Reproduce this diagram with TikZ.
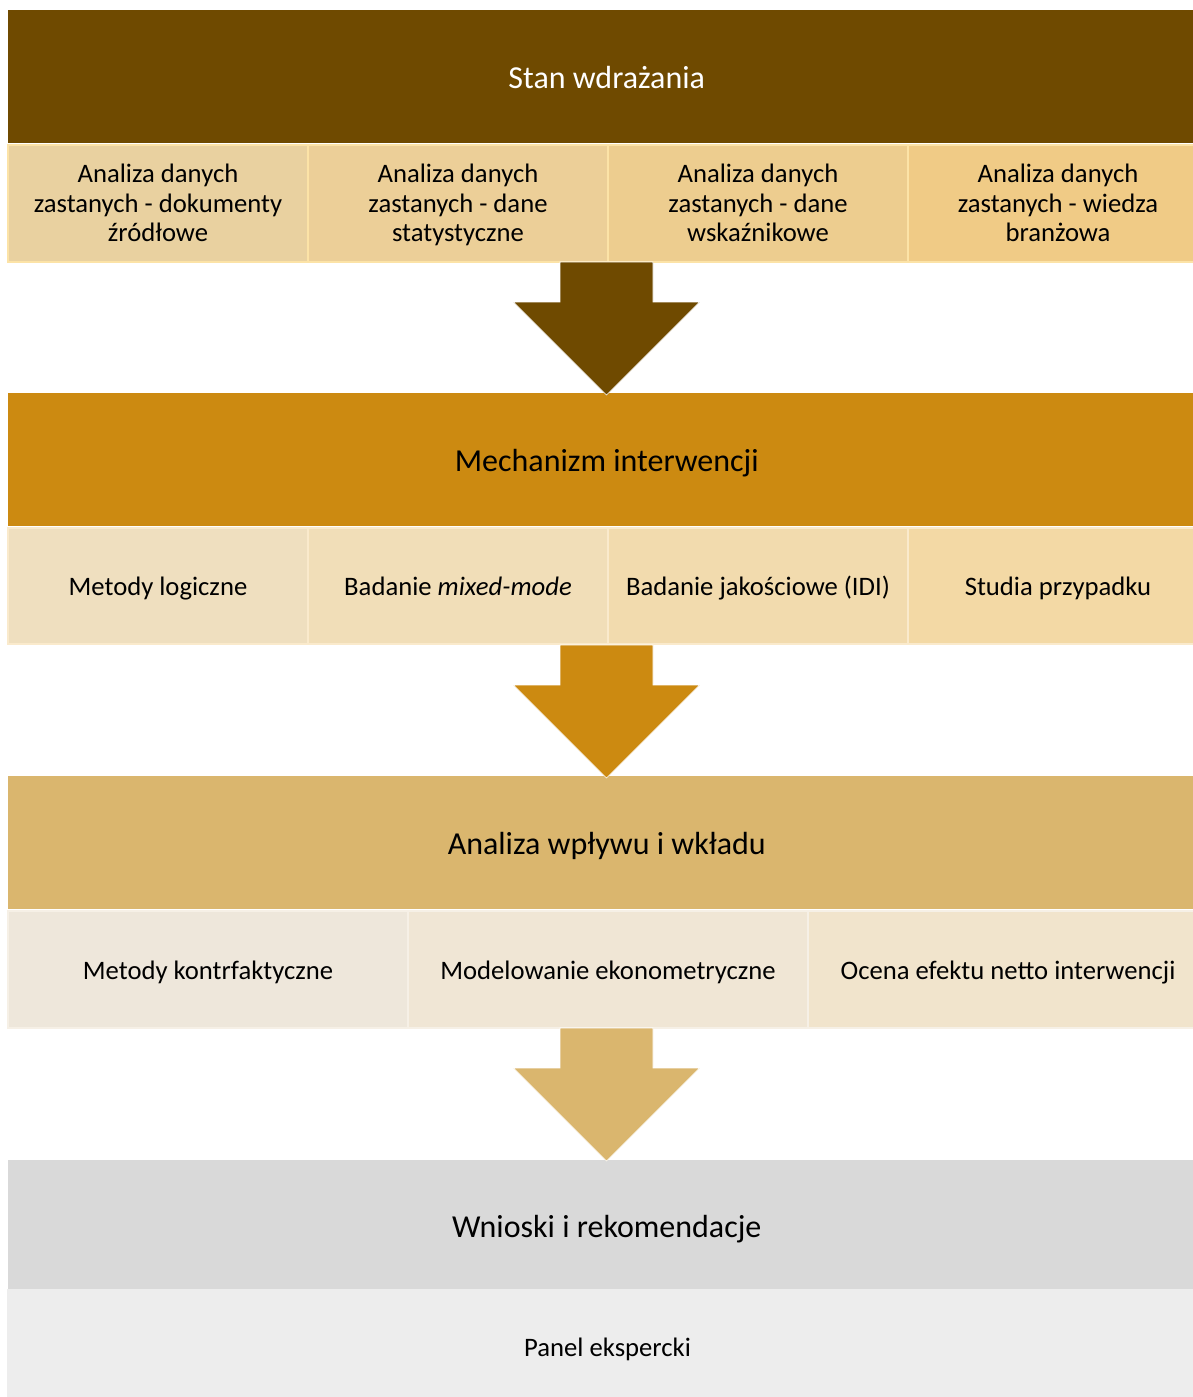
\documentclass[tikz,border=0pt]{standalone}
\usepackage{fontspec}
\setmainfont{Carlito}
\usetikzlibrary{calc}
\definecolor{hA}{RGB}{111,74,0}
\definecolor{hB}{RGB}{204,138,17}
\definecolor{hC}{RGB}{218,182,110}
\definecolor{hD}{RGB}{217,217,217}
\definecolor{sD}{RGB}{237,237,237}
\definecolor{a1}{RGB}{233,209,160}
\definecolor{a2}{RGB}{236,207,152}
\definecolor{a3}{RGB}{237,205,143}
\definecolor{a4}{RGB}{240,203,134}
\definecolor{aB}{RGB}{252,227,167}
\definecolor{b1}{RGB}{239,223,191}
\definecolor{b2}{RGB}{241,222,184}
\definecolor{b3}{RGB}{242,219,174}
\definecolor{b4}{RGB}{243,217,165}
\definecolor{bB}{RGB}{250,234,204}
\definecolor{c1}{RGB}{238,231,219}
\definecolor{c2}{RGB}{240,230,213}
\definecolor{c3}{RGB}{241,228,204}
\definecolor{cB}{RGB}{246,240,230}
\newcommand{\pxu}{0.75pt}
\newcommand{\threelines}[3]{\rule{0pt}{16.5pt}#1\\#2\\#3\rule[-3.6pt]{0pt}{3.6pt}}
\newcommand{\blockarrow}[3]{%
  \fill[#3,draw=white,line width=0.4pt]
    ($(#1)+(-46.5,0)$) -- ($(#1)+(46.5,0)$) -- ($(#1)+(46.5,40)$) --
    ($(#1)+(93,40)$) -- (#2) -- ($(#1)+(-93,40)$) -- ($(#1)+(-46.5,40)$) -- cycle;}
\tikzset{
  hdr/.style={anchor=north west, inner sep=0pt, minimum width=1197*\pxu,
    font=\fontsize{24}{28}\selectfont, text=black, text height=17.3pt, text depth=0pt},
  cell/.style={anchor=north west, inner sep=0pt, align=center,
    font=\fontsize{20}{22.1}\selectfont, text=black, line width=1.5pt},
  one/.style={text height=14.4pt, text depth=0pt},
}
\begin{document}
\begin{tikzpicture}[x=0.75pt,y=-0.75pt]
\useasboundingbox[fill=white] (0,0) rectangle (1193,1397);
\clip (0,0) rectangle (1193,1397);
% Row A
\node[hdr, fill=hA, text=white, minimum height=133*\pxu] (hA) at (8,10) {Stan wdrażania};
\node[cell, fill=a1, draw=aB, minimum width=300*\pxu, minimum height=117*\pxu] (aA1) at (7,144) {\threelines{Analiza danych}{zastanych - dokumenty}{źródłowe}};
\node[cell, fill=a2, draw=aB, minimum width=300*\pxu, minimum height=117*\pxu] (aA2) at (307,144) {\threelines{Analiza danych}{zastanych - dane}{statystyczne}};
\node[cell, fill=a3, draw=aB, minimum width=300*\pxu, minimum height=117*\pxu] (aA3) at (607,144) {\threelines{Analiza danych}{zastanych - dane}{wskaźnikowe}};
\node[cell, fill=a4, draw=aB, minimum width=300*\pxu, minimum height=117*\pxu] (aA4) at (907,144) {\threelines{Analiza danych}{zastanych - wiedza}{branżowa}};
% Row B
\node[hdr, fill=hB, minimum height=133*\pxu] (hB) at (8,393) {Mechanizm interwencji};
\node[cell, one, fill=b1, draw=bB, minimum width=300*\pxu, minimum height=116*\pxu] (bB1) at (7,527) {Metody logiczne};
\node[cell, one, fill=b2, draw=bB, minimum width=300*\pxu, minimum height=116*\pxu] (bB2) at (307,527) {Badanie \textit{mixed-mode}};
\node[cell, one, fill=b3, draw=bB, minimum width=300*\pxu, minimum height=116*\pxu] (bB3) at (607,527) {Badanie jakościowe (IDI)};
\node[cell, one, fill=b4, draw=bB, minimum width=300*\pxu, minimum height=116*\pxu] (bB4) at (907,527) {Studia przypadku};
% Row C
\node[hdr, fill=hC, minimum height=133*\pxu] (hC) at (8,776) {Analiza wpływu i wkładu};
\node[cell, one, fill=c1, draw=cB, minimum width=400*\pxu, minimum height=117*\pxu] (cC1) at (7,910) {Metody kontrfaktyczne};
\node[cell, one, fill=c2, draw=cB, minimum width=400*\pxu, minimum height=117*\pxu] (cC2) at (407,910) {Modelowanie ekonometryczne};
\node[cell, one, fill=c3, draw=cB, minimum width=400*\pxu, minimum height=117*\pxu] (cC3) at (807,910) {Ocena efektu netto interwencji};
% Row D
\node[hdr, fill=hD, minimum height=128*\pxu, yshift=-2*\pxu] (hD) at (8,1160) {Wnioski i rekomendacje};
\fill[hD] (8,1160) rectangle (1193,1164);
\node[cell, one, fill=sD, minimum width=1201*\pxu, minimum height=116*\pxu] (sD) at (6,1288) {Panel ekspercki};
% Arrows
\coordinate (s1) at (606.5,262);
\coordinate (t1) at (606.5,395);
\coordinate (s2) at (606.5,645);
\coordinate (t2) at (606.5,778);
\coordinate (s3) at (606.5,1028);
\coordinate (t3) at (606.5,1161);
\blockarrow{s1}{t1}{hA}
\blockarrow{s2}{t2}{hB}
\blockarrow{s3}{t3}{hC}
\end{tikzpicture}
\end{document}
